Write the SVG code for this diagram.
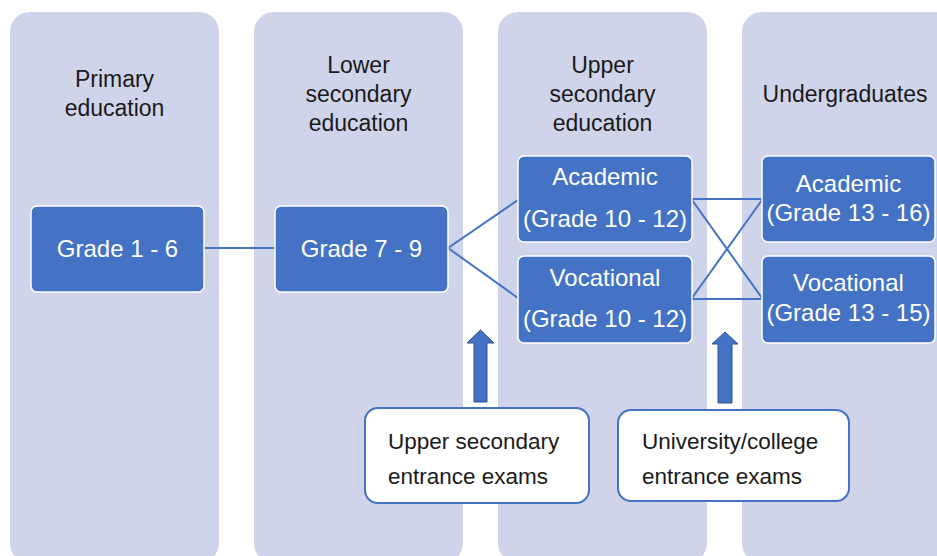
<svg xmlns="http://www.w3.org/2000/svg" width="937" height="556" viewBox="0 0 937 556">
  <style>
    .col { fill: #cfd4ea; }
    .title { font-family: "Liberation Sans", Arial, sans-serif; font-size: 23px; fill: #1a1a1a; text-anchor: middle; }
    .box { fill: #4472c4; stroke: #ffffff; stroke-width: 1.5; }
    .btxt { font-family: "Liberation Sans", Arial, sans-serif; font-size: 24px; fill: #ffffff; text-anchor: middle; }
    .exam { fill: #ffffff; stroke: #4472c4; stroke-width: 2; }
    .etxt { font-family: "Liberation Sans", Arial, sans-serif; font-size: 22.5px; fill: #1a1a1a; }
    .conn { stroke: #4472c4; stroke-width: 2; fill: none; }
    .arrow { fill: #4472c4; stroke: #2f528f; stroke-width: 1; }
  </style>
  <rect width="937" height="556" fill="#ffffff"/>

  <g id="col-primary">
    <rect class="col" x="10" y="12" width="209" height="551" rx="20"/>
    <text class="title" x="114.5" y="87">Primary</text>
    <text class="title" x="114.5" y="116">education</text>
  </g>
  <g id="col-lower">
    <rect class="col" x="254" y="12" width="209" height="551" rx="20"/>
    <text class="title" x="358.5" y="73">Lower</text>
    <text class="title" x="358.5" y="102">secondary</text>
    <text class="title" x="358.5" y="131">education</text>
  </g>
  <g id="col-upper">
    <rect class="col" x="498" y="12" width="209" height="551" rx="20"/>
    <text class="title" x="602.5" y="73">Upper</text>
    <text class="title" x="602.5" y="102">secondary</text>
    <text class="title" x="602.5" y="131">education</text>
  </g>
  <g id="col-undergrad">
    <rect class="col" x="742" y="12" width="220" height="551" rx="20"/>
    <text class="title" x="845" y="102">Undergraduates</text>
  </g>

  <g id="connectors">
    <line class="conn" x1="204" y1="248" x2="275" y2="248"/>
    <line class="conn" x1="448" y1="248" x2="518" y2="200"/>
    <line class="conn" x1="448" y1="248" x2="518" y2="298"/>
    <line class="conn" x1="692" y1="199" x2="762" y2="199"/>
    <line class="conn" x1="692" y1="200" x2="762" y2="298"/>
    <line class="conn" x1="692" y1="298" x2="762" y2="200"/>
    <line class="conn" x1="692" y1="299" x2="762" y2="299"/>
    <path class="arrow" d="M474,402 L474,343 L467,343 L480.5,330 L494,343 L487,343 L487,402 Z"/>
    <path class="arrow" d="M718,403 L718,344 L712,344 L725,332 L738,344 L732,344 L732,403 Z"/>
  </g>

  <g id="grade-1-6">
    <rect class="box" x="31" y="206" width="173" height="86" rx="6"/>
    <text class="btxt" x="117.5" y="257">Grade 1 - 6</text>
  </g>
  <g id="grade-7-9">
    <rect class="box" x="275" y="206" width="173" height="86" rx="6"/>
    <text class="btxt" x="361.5" y="257">Grade 7 - 9</text>
  </g>
  <g id="upper-academic">
    <rect class="box" x="518" y="156" width="174" height="86" rx="6"/>
    <text class="btxt" x="605" y="185">Academic</text>
    <text class="btxt" x="605" y="227">(Grade 10 - 12)</text>
  </g>
  <g id="upper-vocational">
    <rect class="box" x="518" y="256" width="174" height="87" rx="6"/>
    <text class="btxt" x="605" y="286">Vocational</text>
    <text class="btxt" x="605" y="327">(Grade 10 - 12)</text>
  </g>
  <g id="undergrad-academic">
    <rect class="box" x="762" y="156" width="173" height="86" rx="6"/>
    <text class="btxt" x="848.5" y="192">Academic</text>
    <text class="btxt" x="848.5" y="221">(Grade 13 - 16)</text>
  </g>
  <g id="undergrad-vocational">
    <rect class="box" x="762" y="256" width="173" height="87" rx="6"/>
    <text class="btxt" x="848.5" y="291">Vocational</text>
    <text class="btxt" x="848.5" y="321">(Grade 13 - 15)</text>
  </g>

  <g id="exam-upper">
    <rect class="exam" x="365" y="408" width="224" height="95" rx="13"/>
    <text class="etxt" x="388" y="449">Upper secondary</text>
    <text class="etxt" x="388" y="484">entrance exams</text>
  </g>
  <g id="exam-university">
    <rect class="exam" x="618" y="410" width="231" height="91" rx="13"/>
    <text class="etxt" x="642" y="449">University/college</text>
    <text class="etxt" x="642" y="484">entrance exams</text>
  </g>
</svg>
